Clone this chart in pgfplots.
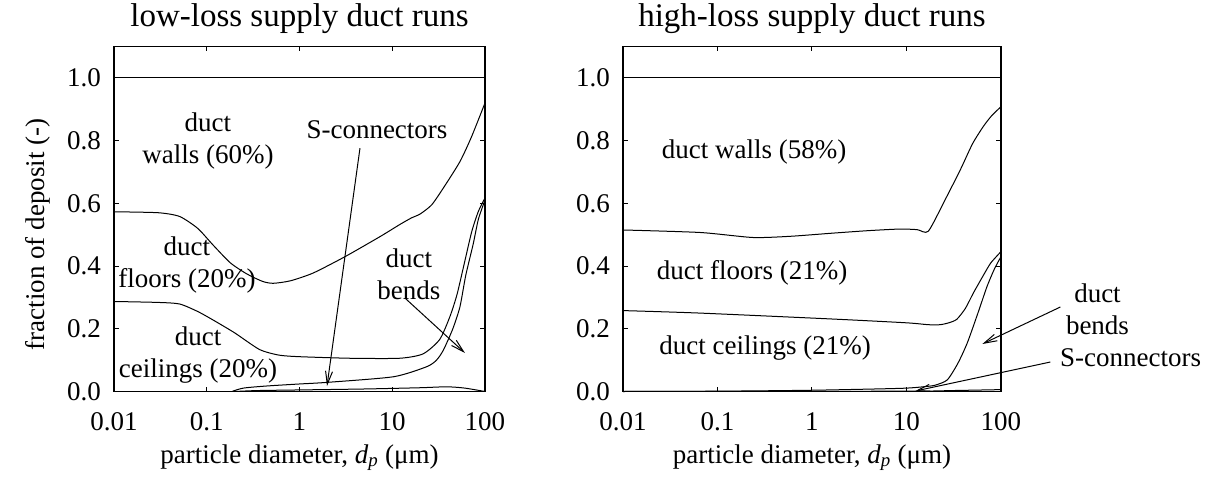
\documentclass[border=0pt]{standalone}
\usepackage{fontspec}
\setmainfont{Liberation Serif}
\usepackage{pgfplots}
\pgfplotsset{compat=1.18}
\usetikzlibrary{arrows.meta}

\newcommand{\lbl}{\fontsize{27}{32}\selectfont}
\tikzset{dl/.style={black, line width=1pt, no marks, smooth, tension=0.4}}
\pgfplotsset{
  every axis/.append style={
    scale only axis, height=345pt,
    xmin=0.01, xmax=100, ymin=0, ymax=1.1,
    xtick={0.01,0.1,1,10,100}, xticklabels={0.01,0.1,1,10,100},
    ytick={0,0.2,0.4,0.6,0.8,1},
    yticklabel={\pgfmathprintnumber[assume math mode=true,fixed,fixed zerofill,precision=1]{\tick}},
    tick label style={font=\lbl, inner sep=0pt},
    xticklabel style={anchor=north, yshift=-21pt},
    yticklabel style={anchor=east, xshift=-13pt},
    major tick length=5pt, tick style={line width=1pt, black},
    axis line style={line width=1.1pt},
    xlabel={particle diameter, \textit{d}\textsubscript{\textit{p}} (μm)},
    xlabel style={font=\lbl, inner sep=0pt, anchor=base, at={(axis description cs:0.5,0)}, yshift=-71.5pt},
    title style={font=\fontsize{33}{36}\selectfont, inner sep=0pt, anchor=base, at={(axis description cs:0.5,1)}, yshift=13.5pt},
    clip=false,
  },
}

\begin{document}
\begin{tikzpicture}[>={Straight Barb[length=13pt,width=7pt,line width=1pt]}]
\path[use as bounding box] (-114pt,-85.5pt) rectangle (1094pt,391.5pt);

\begin{semilogxaxis}[width=371pt, xminorticks=false,
  title={low-loss supply duct runs},
  ylabel={fraction of deposit (-)},
  ylabel style={font=\lbl, inner sep=0pt, anchor=base, at={(axis description cs:-0.186,0.455)}}]
\addplot[dl] coordinates {(0.01,1) (100,1)};
% walls / floors
\addplot[dl] coordinates {(0.01,0.573) (0.03,0.570) (0.051,0.558) (0.08,0.52) (0.117,0.467)
 (0.18,0.41) (0.27,0.375) (0.4,0.351) (0.52,0.345) (0.8,0.353) (1.41,0.378) (3.1,0.43)
 (7.4,0.494) (12,0.532) (16,0.553) (20,0.566) (26.6,0.595) (35.6,0.649) (53.7,0.733)
 (71.8,0.813) (100,0.92)};
% floors / ceilings
\addplot[dl] coordinates {(0.01,0.287) (0.03,0.284) (0.051,0.279) (0.08,0.255) (0.117,0.228)
 (0.2,0.187) (0.37,0.134) (0.6,0.116) (1,0.111) (3.5,0.106) (12,0.106) (21.5,0.12)
 (32.5,0.166) (42,0.24) (50,0.31) (60,0.41) (72,0.51) (85,0.575) (100,0.617)};
% ceilings / bends
\addplot[dl] coordinates {(0.19,0.001) (0.25,0.011) (0.44,0.0175) (1,0.024) (1.96,0.029)
 (10.3,0.047) (23.5,0.079) (30,0.1) (35.6,0.132) (45,0.2) (53.7,0.27) (62,0.37)
 (74.6,0.47) (85,0.55) (100,0.61)};
% bends / S-connectors
\addplot[dl] coordinates {(0.2,0) (0.35,0.003) (1,0.005) (5,0.008) (20,0.012) (38.5,0.015)
 (60,0.011) (100,0)};

\node[font=\lbl, align=center] at (axis cs:0.1031,0.799) {duct\\walls (60\%)};
\node[font=\lbl, align=center] at (axis cs:0.0612,0.4035) {duct\\floors (20\%)};
\node[font=\lbl, align=center] at (axis cs:0.0805,0.1164) {duct\\ceilings (20\%)};
\node[font=\lbl] at (axis cs:6.85,0.834) {S-connectors};
\node[font=\lbl, align=center] at (axis cs:15.1,0.375) {duct\\bends};
\draw[->, line width=1pt] (axis cs:4.49,0.776) -- (axis cs:1.98,0.0175);
\draw[->, line width=1pt] (axis cs:13.7,0.298) -- (axis cs:60.8,0.1228);
\end{semilogxaxis}

\begin{semilogxaxis}[width=378pt, xminorticks=false, at={(509pt,0pt)}, anchor=south west,
  title={high-loss supply duct runs}]
\addplot[dl] coordinates {(0.01,1) (100,1)};
% walls / floors
\addplot[dl] coordinates {(0.01,0.515) (0.0655,0.507) (0.238,0.491) (0.6,0.495) (1.67,0.505)
 (4,0.513) (8.6,0.518) (13,0.516) (17,0.511) (25,0.605) (37,0.706) (50,0.79) (65,0.845)
 (80,0.88) (100,0.908)};
% floors / ceilings
\addplot[dl] coordinates {(0.01,0.258) (0.0655,0.25) (1.67,0.231) (10,0.219) (17,0.213)
 (22.7,0.213) (28,0.219) (34,0.23) (42,0.265) (51,0.314) (65,0.37) (78,0.41) (100,0.446)};
% ceilings / bends
\addplot[dl] coordinates {(0.01,0) (0.1,0.001) (1,0.004) (8.6,0.01) (15,0.015) (20,0.02)
 (27,0.037) (35,0.09) (44,0.155) (57,0.25) (71,0.334) (85,0.39) (100,0.43)};
% bends / S-connectors
\addplot[dl] coordinates {(0.01,0) (10,0.001) (30,0.003) (100,0.006)};

\node[font=\lbl] at (axis cs:0.244,0.764) {duct walls (58\%)};
\node[font=\lbl] at (axis cs:0.2325,0.378) {duct floors (21\%)};
\node[font=\lbl] at (axis cs:0.319,0.1388) {duct ceilings (21\%)};
\node[font=\lbl, align=center] at (axis cs:1050,0.2616) {duct\\bends};
\node[font=\lbl] at (axis cs:2350,0.107) {S-connectors};
\draw[->, line width=1pt] (axis cs:425.6,0.2695) -- (axis cs:63.5,0.1515);
\draw[->, line width=1pt] (axis cs:333,0.094) -- (axis cs:12.4,0.0016);
\end{semilogxaxis}
\end{tikzpicture}
\end{document}
